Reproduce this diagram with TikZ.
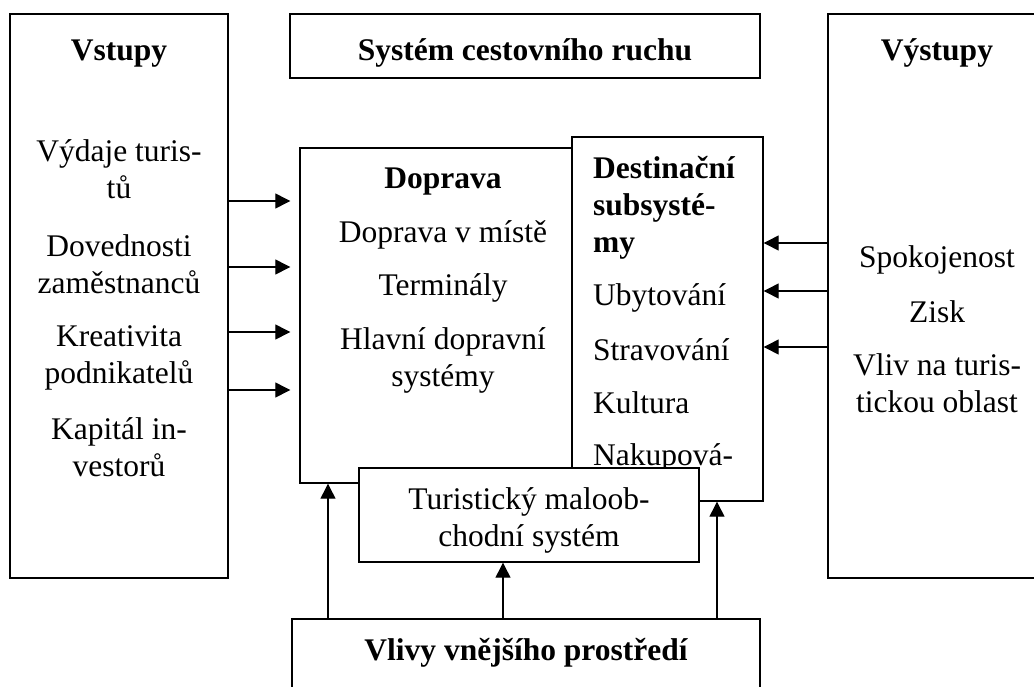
\documentclass[tikz,border=0pt]{standalone}
\usepackage{fontspec}
\setmainfont{Liberation Serif}
\usetikzlibrary{arrows.meta}

\begin{document}
\begin{tikzpicture}[x=1pt,y=-1pt,
  box/.style={draw,line width=1.4pt,fill=white,inner sep=0pt},
  txt/.style={font=\fontsize{31.5}{37}\selectfont,align=center,anchor=base,inner sep=0pt},
  ttl/.style={txt,font=\fontsize{31.5}{37}\selectfont\bfseries},
  arr/.style={line width=1.3pt,-{Triangle[length=15pt,width=15pt]}}]
\clip (0,0) rectangle (1034,686);
% outer boxes
\node[box,minimum width=218,minimum height=564] (vstupy) at (119,296) {};
\node[box,minimum width=470,minimum height=64] (system) at (525,46) {};
\node[box,minimum width=218,minimum height=564] (vystupy) at (937,296) {};
\node[ttl] (vstupyT) at (119,60) {Vstupy};
\node[ttl] (systemT) at (525,60) {Systém cestovního ruchu};
\node[ttl] (vystupyT) at (937,60) {Výstupy};
% inputs (base = last line)
\node[txt] (vydaje) at (119,198) {Výdaje turis-\\tů};
\node[txt] (dovednosti) at (119,293) {Dovednosti\\zaměstnanců};
\node[txt] (kreativita) at (119,383) {Kreativita\\podnikatelů};
\node[txt] (kapital) at (119,476) {Kapitál in-\\vestorů};
% outputs
\node[txt] (spokojenost) at (937,267) {Spokojenost};
\node[txt] (zisk) at (937,322) {Zisk};
\node[txt] (vliv) at (937,412) {Vliv na turis-\\tickou oblast};
% subsystems
\node[box,minimum width=272,minimum height=335] (doprava) at (436,315.5) {};
\node[box,minimum width=191,minimum height=364] (destinace) at (667.5,319) {};
\node[ttl] (dopravaT) at (443,188) {Doprava};
\node[txt] (mistni) at (443,242) {Doprava v místě};
\node[txt] (terminaly) at (443,295) {Terminály};
\node[txt] (hlavni) at (443,386) {Hlavní dopravní\\systémy};
\node[ttl,align=left,anchor=base west] (destinaceT) at (593,252) {Destinační\\subsysté-\\my};
\node[txt,anchor=base west] (ubytovani) at (593,305) {Ubytování};
\node[txt,anchor=base west] (stravovani) at (593,360) {Stravování};
\node[txt,anchor=base west] (kultura) at (593,413) {Kultura};
\node[txt,anchor=base west] (nakupovani) at (593,465) {Nakupová-};
\node[box,minimum width=340,minimum height=94] (maloob) at (529,515) {};
\node[txt] (maloobT) at (529,546) {Turistický maloob-\\chodní systém};
% environment
\node[box,minimum width=468,minimum height=122] (vlivy) at (526,680) {};
\node[ttl] (vlivyT) at (526,660) {Vlivy vnějšího prostředí};
% arrows
\foreach \y in {201,267,332,390}
  \draw[arr,shorten >=9pt] (vstupy.east |- 0,\y) -- (doprava.west |- 0,\y);
\foreach \y in {243,291,347}
  \draw[arr] (vystupy.west |- 0,\y) -- (destinace.east |- 0,\y);
\draw[arr] (vlivy.north -| 328,0) -- (doprava.south -| 328,0);
\draw[arr] (vlivy.north -| 503,0) -- (maloob.south -| 503,0);
\draw[arr] (vlivy.north -| 717,0) -- (destinace.south -| 717,0);
\end{tikzpicture}
\end{document}
